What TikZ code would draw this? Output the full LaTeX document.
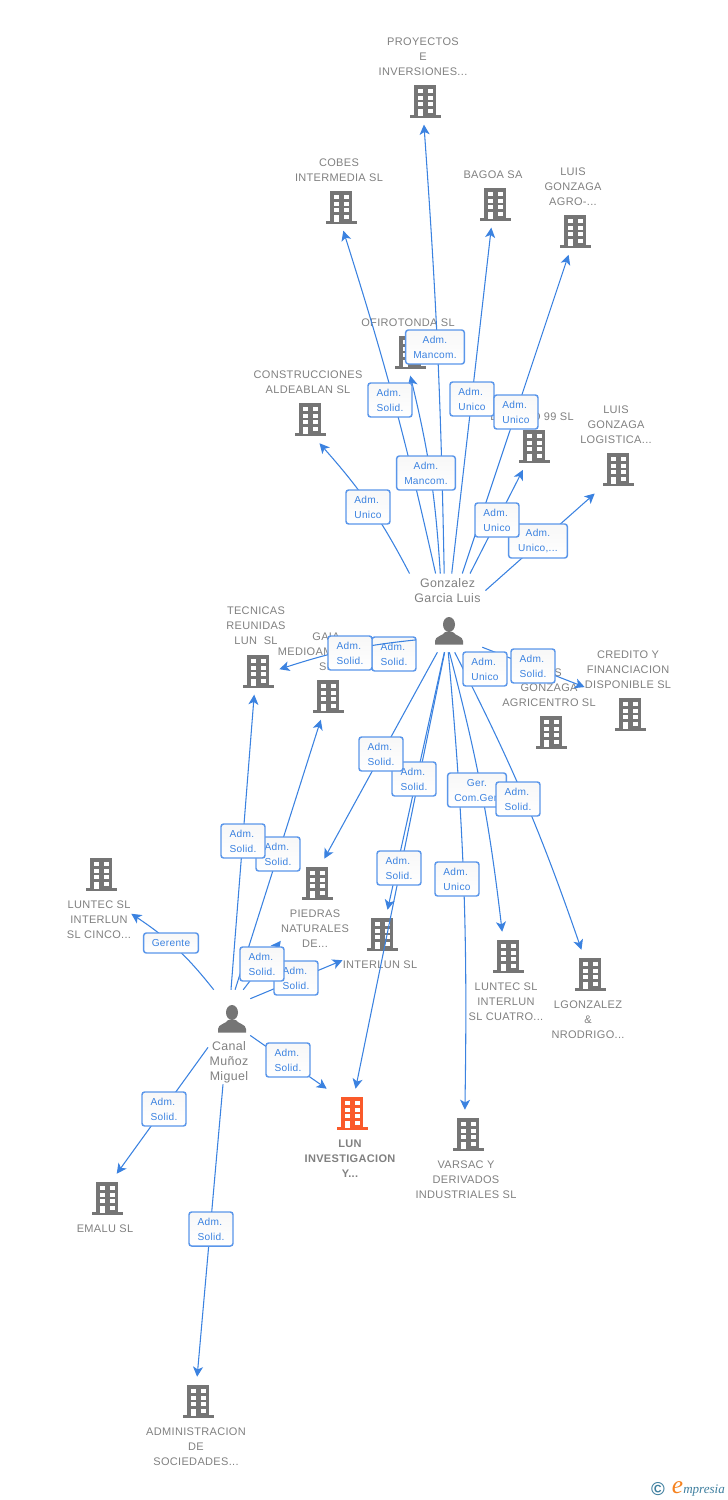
\documentclass[tikz,border=0pt]{standalone}
\usepackage{fontspec}
\setmainfont[LetterSpace=3]{Liberation Sans}
\newfontfamily\logofont{Liberation Serif}
\usetikzlibrary{positioning,arrows.meta}
\definecolor{icongray}{HTML}{757575}
\definecolor{iconred}{HTML}{FA5A2A}
\definecolor{textgray}{HTML}{808080}
\definecolor{linkblue}{HTML}{3B82E0}
\definecolor{boxblue}{HTML}{5A96EA}
\definecolor{logoteal}{HTML}{3F7F9F}
\definecolor{logoorange}{HTML}{F5821F}

\begin{document}
\begin{tikzpicture}[
x=0.75pt, y=-0.75pt,
>={Stealth[length=7.5pt,width=7.5pt,inset=2pt]},
company/.style={minimum size=37.5pt, inner sep=0pt, path picture={
  \begin{scope}[shift={(path picture bounding box.center)}]
  \fill[#1] (-11,-17) rectangle (11,14);
  \fill[#1] (-15.5,13) rectangle (15.5,16);
  \foreach \wx in {-7.5,2.5} \foreach \wy in {-12.7,-6,0}
    \fill[white] (\wx,\wy) rectangle ++(5,4);
  \fill[white] (-7.5,6.7) rectangle (-2.5,14);
  \fill[white] (2.5,6.7) rectangle (7.5,11);
  \end{scope}}},
company/.default=icongray,
person/.style={inner sep=0pt, path picture={
  \begin{scope}[shift={(path picture bounding box.center)}]
  \fill[icongray] (0,-6.5) ellipse (6 and 7.5);
  \fill[icongray] (-14,13.5) -- (-14,10) .. controls (-14,5) and (-6,5) .. (-4,1) -- (4,1) .. controls (6,5) and (14,5) .. (14,10) -- (14,13.5) -- cycle;
  \end{scope}}},
captext/.style={inner sep=0pt, align=center, text=textgray, font={\fontsize{8.25}{11.25}\selectfont}},
caption/.style={captext, xshift=-1.5pt},
personcaption/.style={captext, inner sep=#1, font={\fontsize{9.3}{11.25}\selectfont}},
role/.style={draw=boxblue, top color=black!3, bottom color=white, line width=1.1pt, rounded corners=2pt, inner sep=0pt, minimum width=33pt, minimum height=25.5pt, align=left, text=linkblue, font={\fontsize{7.6}{11.25}\selectfont}},
wide/.style={minimum width=44pt, align=center},
link/.style={->, draw=linkblue, line width=0.8pt},
up/.style={link, shorten >=-2pt}
]
\useasboundingbox (0,0) rectangle (728,1500);

% companies, top half
\node[company](proyectos) at (425,102){};
\node[caption](proyectos_label)[above=0.75pt of proyectos]{PROYECTOS\\E\\INVERSIONES...};
\node[company](cobes) at (341,208){};
\node[caption](cobes_label)[above=0.75pt of cobes]{COBES\\INTERMEDIA SL};
\node[company](bagoa) at (495,205){};
\node[caption](bagoa_label)[above=0.75pt of bagoa]{BAGOA SA};
\node[company](agro) at (575,232){};
\node[caption](agro_label)[above=0.75pt of agro]{LUIS\\GONZAGA\\AGRO-...};
\node[company](ofirotonda) at (410,353){};
\node[caption](ofirotonda_label)[above=0.75pt of ofirotonda]{OFIROTONDA SL};
\node[company](aldeablan) at (310,420){};
\node[caption](aldeablan_label)[above=0.75pt of aldeablan]{CONSTRUCCIONES\\ALDEABLAN SL};
\node[company](dato) at (534,447){};
\node[caption](dato_label)[above=0.75pt of dato]{DOMINIO 99 SL};
\node[company](logistica) at (618,470){};
\node[caption](logistica_label)[above=0.75pt of logistica]{LUIS\\GONZAGA\\LOGISTICA...};
\node[company](tecnicas) at (258,672){};
\node[caption](tecnicas_label)[above=1.5pt of tecnicas]{TECNICAS\\REUNIDAS\\LUN\ \ SL};
\node[company](gaia) at (328,697){};
\node[caption](gaia_label)[above=0.75pt of gaia]{GAIA\\MEDIOAMBIENTE\\SL};
\node[company](agricentro) at (551,733){};
\node[caption](agricentro_label)[above=0.75pt of agricentro]{LUIS\\GONZAGA\\AGRICENTRO SL};
\node[company](credito) at (630,715){};
\node[caption](credito_label)[above=0.75pt of credito]{CREDITO Y\\FINANCIACION\\DISPONIBLE SL};

% companies, bottom half
\node[company](cinco) at (101,875){};
\node[caption](cinco_label)[below=0pt of cinco]{LUNTEC SL\\INTERLUN\\SL CINCO...};
\node[company](piedras) at (317,884){};
\node[caption](piedras_label)[below=0.5pt of piedras]{PIEDRAS\\NATURALES\\DE...};
\node[company](interlun) at (382,935){};
\node[caption](interlun_label)[below=0pt of interlun]{INTERLUN SL};
\node[company](cuatro) at (508,957){};
\node[caption](cuatro_label)[below=0pt of cuatro]{LUNTEC SL\\INTERLUN\\SL CUATRO...};
\node[company](lgonzalez) at (590,975){};
\node[caption](lgonzalez_label)[below=0pt of lgonzalez]{LGONZALEZ\\\&\\NRODRIGO...};
\node[company=iconred](lun) at (352,1114){};
\node[caption,font={\fontsize{8.25}{11.25}\selectfont\bfseries}](lun_label)[below=0pt of lun]{LUN\\INVESTIGACION\\Y...};
\node[company](varsac) at (468,1135){};
\node[caption](varsac_label)[below=0pt of varsac]{VARSAC Y\\DERIVADOS\\INDUSTRIALES SL};
\node[company](emalu) at (107,1199){};
\node[caption](emalu_label)[below=0pt of emalu]{EMALU SL};
\node[company](sociedades) at (198,1402){};
\node[caption](sociedades_label)[below=0pt of sociedades]{ADMINISTRACION\\DE\\SOCIEDADES...};

% people
\node[person, minimum width=49.5pt, minimum height=31.5pt](gonzalez) at (449,631){};
\node[personcaption=3.5pt](gonzalez_label) at (447.5,590.5){Gonzalez\\Garcia Luis};
\node[person, minimum width=27pt, minimum height=43.5pt](canal) at (232,1019){};
\node[personcaption=1pt](canal_label) at (229,1062){Canal\\Muñoz\\Miguel};

% links of Gonzalez
\draw[up] (gonzalez_label.101) to[bend right=1.5] (proyectos.-92);
\draw[up] (gonzalez_label.125) to[bend right=2.5] (cobes.-83);
\draw[up] (gonzalez_label.113) to[bend right=5] (ofirotonda.-88);
\draw[up] (gonzalez_label.76) -- (bagoa.-99);
\draw[up] (gonzalez_label.49) -- (agro.-106);
\draw[up] (gonzalez_label.37) -- (dato.-116);
\draw[up] (gonzalez_label.east) -- (logistica.south west);
\draw[up] (gonzalez_label.north west) to[bend right=7] (aldeablan.-66);
\draw[link] (gonzalez.195) -- (gaia_label.-10);
\draw[link] (gonzalez) -- (piedras.74);
\draw[link] (gonzalez) -- (interlun);
\draw[link] (gonzalez) -- (lun.82);
\draw[link] (gonzalez.-35) -- (agricentro_label.north west);
\draw[link] (gonzalez.-26) -- (credito_label.202);
\draw[link] (gonzalez.-92) to[bend left=3] (varsac.97);
\draw[link] (gonzalez.-89) to[bend left=4] (cuatro.103);
\draw[link] (gonzalez.-75) to[bend left=4] (lgonzalez);

% links of Canal
\draw[up] (canal.92) -- (tecnicas.-99);
\draw[up] (canal.84) -- (gaia);
\draw[link] (canal.69) -- (piedras_label.199);
\draw[link] (canal.48) -- (interlun_label.north west);
\draw[link] (canal.north west) to[bend right=9] (cinco_label.10);
\draw[link] (canal.-42) -- (lun.north west);
\draw[link] (canal_label.145) -- (emalu.69);
\draw[link] (canal_label.255) -- (sociedades.92);

% roles
\node[role,wide](role_proyectos) at (435,347){Adm.\\Mancom.};
\node[role](role_cobes) at (390,400){Adm.\\Solid.};
\node[role,wide](role_ofirotonda) at (426,473){Adm.\\Mancom.};
\node[role](role_bagoa) at (472,399){Adm.\\Unico};
\node[role](role_agro) at (516,412){Adm.\\Unico};
\node[role,wide](role_logistica) at (538,541){Adm.\\Unico,...};
\node[role](role_dato) at (497,520){Adm.\\Unico};
\node[role](role_aldeablan) at (368,507){Adm.\\Unico};
\node[role](role_gaia) at (394,654){Adm.\\Solid.};
\node[role](role_interlun) at (414,779){Adm.\\Solid.};
\node[role](role_piedras) at (381,754){Adm.\\Solid.};
\node[role](role_lun) at (399,868){Adm.\\Solid.};
\node[role](role_agricentro) at (485,669){Adm.\\Unico};
\node[role](role_credito) at (533,666){Adm.\\Solid.};
\node[role](role_varsac) at (457,879){Adm.\\Unico};
\node[role,wide](role_cuatro) at (477,790){Ger.\\Com.Ger.};
\node[role](role_lgonzalez) at (518,799){Adm.\\Solid.};
\node[role](role_c_gaia) at (278,854){Adm.\\Solid.};
\node[role](role_c_tecnicas) at (243,841){Adm.\\Solid.};
\node[role](role_c_interlun) at (296,978){Adm.\\Solid.};
\node[role](role_c_piedras) at (262,964){Adm.\\Solid.};
\node[role, minimum width=41pt, minimum height=15pt](role_c_cinco) at (171,943){Gerente};
\node[role](role_c_lun) at (288,1060){Adm.\\Solid.};
\node[role](role_c_emalu) at (164,1109){Adm.\\Solid.};
\node[role](role_c_sociedades) at (211,1229){Adm.\\Solid.};

% this one runs over the box of Gaia
\draw[link, shorten >=-3pt] (gonzalez.195) to[bend right=6] (tecnicas.9);
\node[role](role_tecnicas) at (350,653){Adm.\\Solid.};

% logo
\node[text=logoteal, inner sep=0pt, font=\fontsize{14}{14}\selectfont\bfseries](logo_c) at (658,1489){©};
\node[text=logoorange, inner sep=0pt, font=\logofont\itshape\fontsize{19}{19}\selectfont](logo_e) at (677.5,1488){e};
\node[text=logoteal, inner sep=0pt, anchor=west, font=\logofont\itshape\fontsize{9.8}{9.8}\selectfont](logo_t) at (683,1491){mpresia};
\end{tikzpicture}
\end{document}
